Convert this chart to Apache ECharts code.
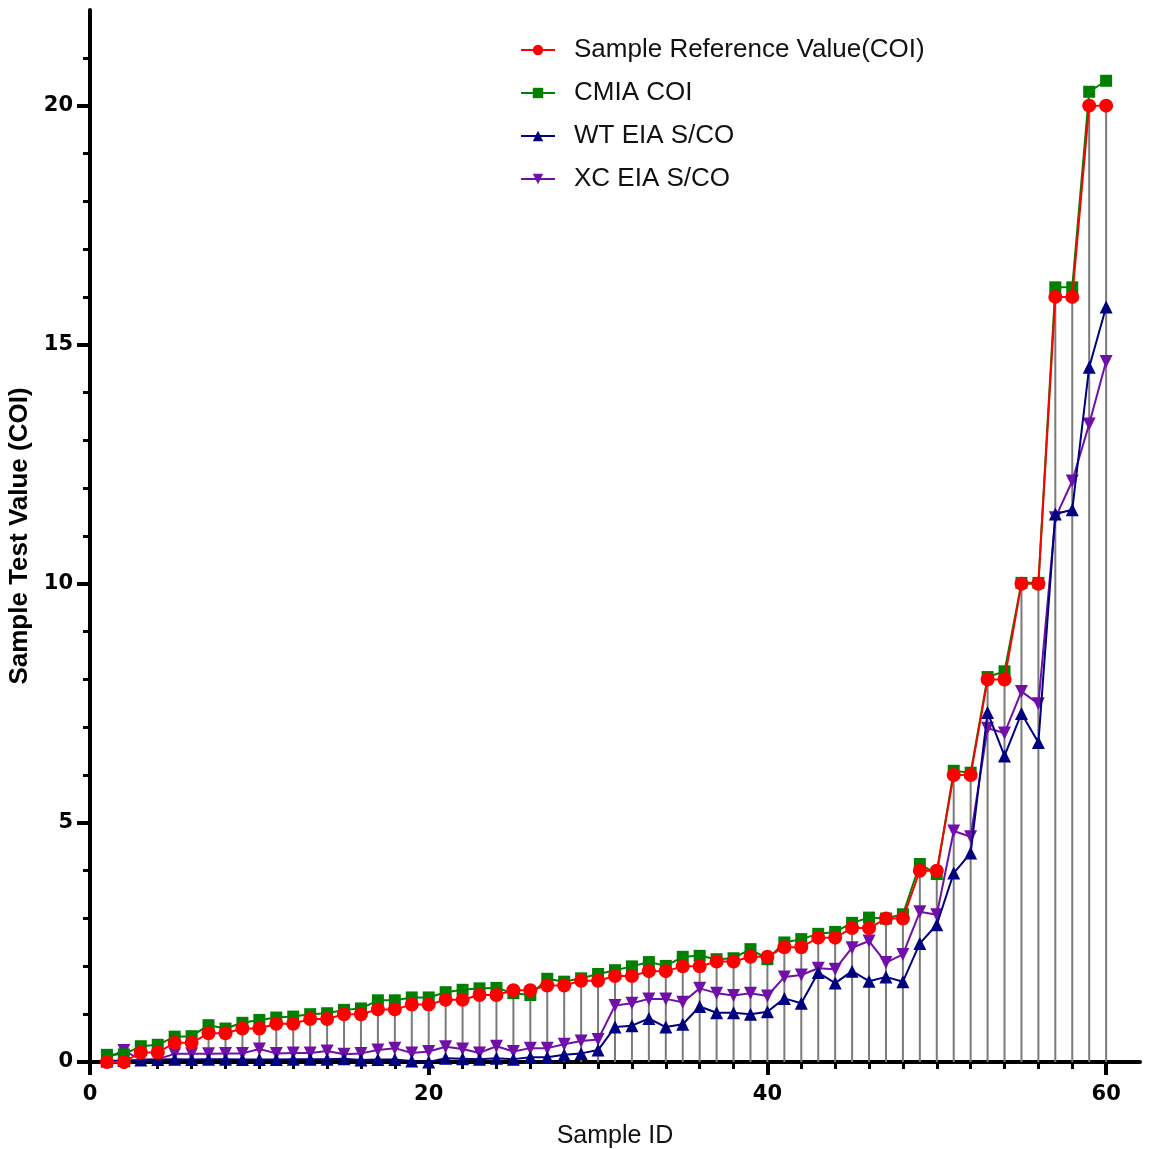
<!DOCTYPE html>
<html>
<head>
<meta charset="utf-8">
<script src="https://cdn.jsdelivr.net/npm/echarts@6/dist/echarts.min.js"></script>
<style>
  html, body { margin: 0; padding: 0; background: #fff; }
  #chart { width: 1154px; height: 1149px; }
</style>
</head>
<body>
<div id="chart"></div>
<script>
var sampleIds = [];
for (var i = 1; i <= 60; i++) sampleIds.push(i);

var refValues = [0, 0, 0.2, 0.2, 0.4, 0.4, 0.6, 0.6, 0.7, 0.7, 0.8, 0.8, 0.9, 0.9, 1.0, 1.0, 1.1, 1.1, 1.2, 1.2,
  1.3, 1.3, 1.4, 1.4, 1.5, 1.5, 1.6, 1.6, 1.7, 1.7, 1.8, 1.8, 1.9, 1.9, 2.0, 2.0, 2.1, 2.1, 2.2, 2.2,
  2.4, 2.4, 2.6, 2.6, 2.8, 2.8, 3.0, 3.0, 4, 4, 6, 6, 8, 8, 10, 10, 16, 16, 20, 20];

var cmiaValues = [0.15, 0.16, 0.33, 0.36, 0.53, 0.54, 0.77, 0.70, 0.82, 0.88, 0.93, 0.95, 1.0, 1.02, 1.09, 1.12, 1.29, 1.29, 1.35, 1.35,
  1.46, 1.51, 1.54, 1.55, 1.44, 1.40, 1.74, 1.68, 1.75, 1.84, 1.92, 2.0, 2.09, 2.01, 2.2, 2.22, 2.15, 2.17, 2.36, 2.15,
  2.5, 2.57, 2.68, 2.72, 2.91, 3.02, 3.0, 3.09, 4.14, 3.93, 6.09, 6.05, 8.05, 8.17, 10.02, 10.02, 16.2, 16.2, 20.29, 20.52];

var wtValues = [0.02, 0.03, 0.04, 0.05, 0.06, 0.05, 0.06, 0.06, 0.05, 0.05, 0.05, 0.06, 0.06, 0.06, 0.07, 0.04, 0.05, 0.05, 0.02, 0.0,
  0.08, 0.07, 0.06, 0.08, 0.06, 0.1, 0.1, 0.15, 0.18, 0.25, 0.73, 0.76, 0.91, 0.73, 0.79, 1.16, 1.03, 1.03, 1.0, 1.05,
  1.33, 1.23, 1.87, 1.65, 1.9, 1.69, 1.78, 1.68, 2.48, 2.87, 3.95, 4.37, 7.31, 6.4, 7.29, 6.68, 11.46, 11.55, 14.53, 15.79];

var xcValues = [0.08, 0.24, 0.05, 0.06, 0.17, 0.17, 0.17, 0.18, 0.18, 0.27, 0.18, 0.19, 0.19, 0.23, 0.16, 0.18, 0.25, 0.29, 0.19, 0.22,
  0.32, 0.27, 0.19, 0.33, 0.22, 0.29, 0.29, 0.37, 0.44, 0.47, 1.18, 1.23, 1.32, 1.32, 1.25, 1.54, 1.44, 1.39, 1.44, 1.38,
  1.78, 1.82, 1.96, 1.94, 2.39, 2.53, 2.08, 2.25, 3.14, 3.08, 4.83, 4.71, 6.98, 6.88, 7.75, 7.49, 11.38, 12.15, 13.34, 14.65];

var xTicks = [0, 20, 40, 60];
var yTicks = [0, 5, 10, 15, 20];

function pairs(vals) {
  return sampleIds.map(function(id, k) { return [id, vals[k]]; });
}

var chart = echarts.init(document.getElementById('chart'), null, { renderer: 'canvas' });

var axisFont = { fontFamily: 'DejaVu Sans', fontWeight: 'bold', fontSize: 21, color: '#000' };

chart.setOption({
  animation: false,
  backgroundColor: '#fff',
  grid: { left: 90, top: 10, width: 1050, height: 1052, outerBoundsMode: 'none' },
  legend: {
    left: 515,
    top: 32,
    orient: 'vertical',
    itemWidth: 34,
    itemHeight: 13,
    itemGap: 17,
    textStyle: { fontFamily: 'Liberation Sans', fontSize: 26, color: '#111', padding: [0, 0, 0, 14] },
    data: ['Sample Reference Value(COI)', 'CMIA COI', 'WT EIA S/CO', 'XC EIA S/CO']
  },
  xAxis: {
    type: 'value',
    min: 0,
    max: 62,
    interval: 20,
    name: 'Sample ID',
    nameLocation: 'middle',
    nameGap: 62,
    nameTextStyle: { fontFamily: 'Liberation Sans', fontSize: 25, color: '#111' },
    axisLine: { lineStyle: { color: '#000', width: 4 } },
    axisTick: { length: 13, customValues: xTicks, lineStyle: { color: '#000', width: 4 } },
    minorTick: { show: true, splitNumber: 10, length: 7, lineStyle: { color: '#000', width: 3 } },
    splitLine: { show: false },
    axisLabel: Object.assign({ margin: 22, showMaxLabel: false }, axisFont)
  },
  yAxis: {
    type: 'value',
    min: 0,
    max: 22,
    interval: 5,
    name: 'Sample Test Value (COI)',
    nameLocation: 'middle',
    nameGap: 55,
    nameTextStyle: { fontFamily: 'Liberation Sans', fontWeight: 'bold', fontSize: 26, color: '#000' },
    axisLine: { lineStyle: { color: '#000', width: 4 } },
    axisTick: { length: 13, customValues: yTicks, lineStyle: { color: '#000', width: 4 } },
    minorTick: { show: true, splitNumber: 5, length: 7, lineStyle: { color: '#000', width: 3 } },
    splitLine: { show: false },
    axisLabel: Object.assign({ margin: 17, showMaxLabel: false }, axisFont)
  },
  series: [
    {
      name: 'drop',
      type: 'custom',
      silent: true,
      z: 1,
      data: pairs(refValues),
      renderItem: function(params, api) {
        var top = api.coord([api.value(0), api.value(1)]);
        var bottom = api.coord([api.value(0), 0]);
        return {
          type: 'line',
          shape: { x1: top[0], y1: top[1], x2: bottom[0], y2: bottom[1] },
          style: { stroke: '#7a7a7a', lineWidth: 2 }
        };
      }
    },
    {
      name: 'XC EIA S/CO',
      type: 'line',
      z: 2,
      data: pairs(xcValues),
      symbol: 'triangle',
      symbolRotate: 180,
      symbolSize: 13,
      color: '#7010A8',
      lineStyle: { width: 2 }
    },
    {
      name: 'WT EIA S/CO',
      type: 'line',
      z: 3,
      data: pairs(wtValues),
      symbol: 'triangle',
      symbolSize: 13,
      color: '#000080',
      lineStyle: { width: 2 }
    },
    {
      name: 'CMIA COI',
      type: 'line',
      z: 4,
      data: pairs(cmiaValues),
      symbol: 'rect',
      symbolSize: 12,
      color: '#008000',
      lineStyle: { width: 2 }
    },
    {
      name: 'Sample Reference Value(COI)',
      type: 'line',
      z: 5,
      data: pairs(refValues),
      symbol: 'circle',
      symbolSize: 14,
      color: '#FF0000',
      lineStyle: { width: 2 }
    }
  ]
});
</script>
</body>
</html>
